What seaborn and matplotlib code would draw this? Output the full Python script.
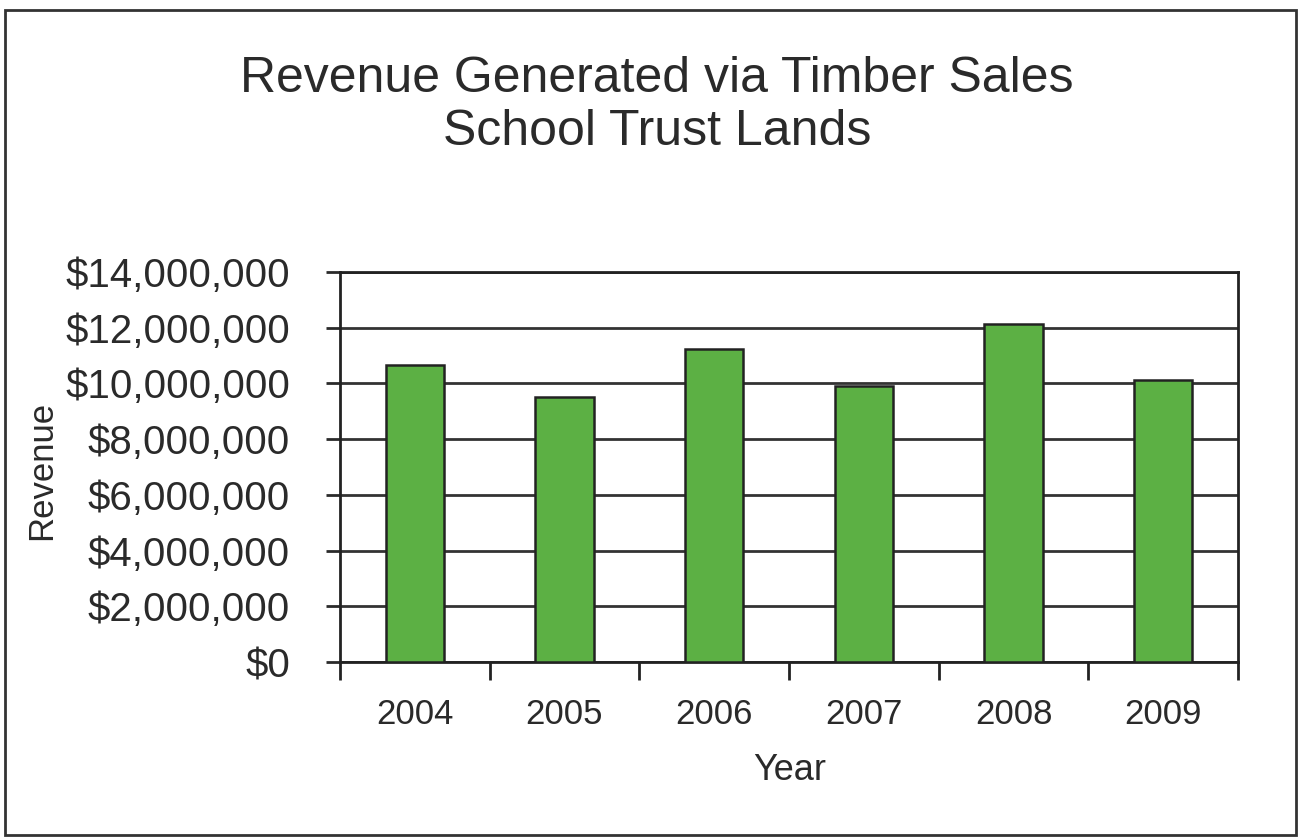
import seaborn as sns
import matplotlib.pyplot as plt
import pandas as pd
from matplotlib.patches import Rectangle
from matplotlib.ticker import FuncFormatter, FixedLocator, MultipleLocator

sns.set_style("white")
plt.rcParams['font.family'] = ['Liberation Sans', 'DejaVu Sans']

years = ["2004", "2005", "2006", "2007", "2008", "2009"]
revenue = [10650000, 9500000, 11230000, 9900000, 12130000, 10120000]

df = pd.DataFrame({"Year": years, "Revenue": revenue})

fig = plt.figure(figsize=(13.01, 8.4), dpi=100)
ax = fig.add_axes([0.2613, 0.2119, 0.6903, 0.4643])

sns.barplot(x="Year", y="Revenue", data=df, ax=ax, color="#5cb044",
            saturation=1, width=0.39, edgecolor="#222222", linewidth=1.8, zorder=3)

ax.set_ylim(0, 14000000)
ax.set_xlim(-0.5, 5.5)
ax.yaxis.set_major_locator(MultipleLocator(2000000))
ax.yaxis.set_major_formatter(FuncFormatter(lambda v, p: "${:,.0f}".format(v)))
ax.grid(axis="y", color="#333333", linewidth=2, zorder=0)
ax.set_axisbelow(True)

# ticks between categories
ax.xaxis.set_minor_locator(FixedLocator([i - 0.5 for i in range(7)]))
ax.tick_params(axis="x", which="major", length=0, labelsize=25, pad=26, colors="#2a2a2a")
ax.tick_params(axis="x", which="minor", length=13, width=2, direction="out", bottom=True, color="#222222")
ax.tick_params(axis="y", which="major", length=10, width=2, direction="out", left=True,
               labelsize=29, pad=26, colors="#2a2a2a")

for s in ax.spines.values():
    s.set_color("#222222")
    s.set_linewidth(2)

ax.set_xlabel("")
ax.set_ylabel("")
fig.text(0.032, 0.44, "Revenue", rotation=90, ha="center", va="center", fontsize=25, color="#2a2a2a")
fig.text(0.607, 0.083, "Year", ha="center", va="center", fontsize=26, color="#2a2a2a")
fig.text(0.505, 0.8905, "Revenue Generated via Timber Sales",
         ha="center", va="baseline", fontsize=36, color="#2a2a2a")
fig.text(0.505, 0.8274, "School Trust Lands",
         ha="center", va="baseline", fontsize=36, color="#2a2a2a")

fig.patches.append(Rectangle((0.004, 0.006), 0.992, 0.982, transform=fig.transFigure,
                             fill=False, edgecolor="#333333", linewidth=2))

plt.savefig("out.png", dpi=100)
